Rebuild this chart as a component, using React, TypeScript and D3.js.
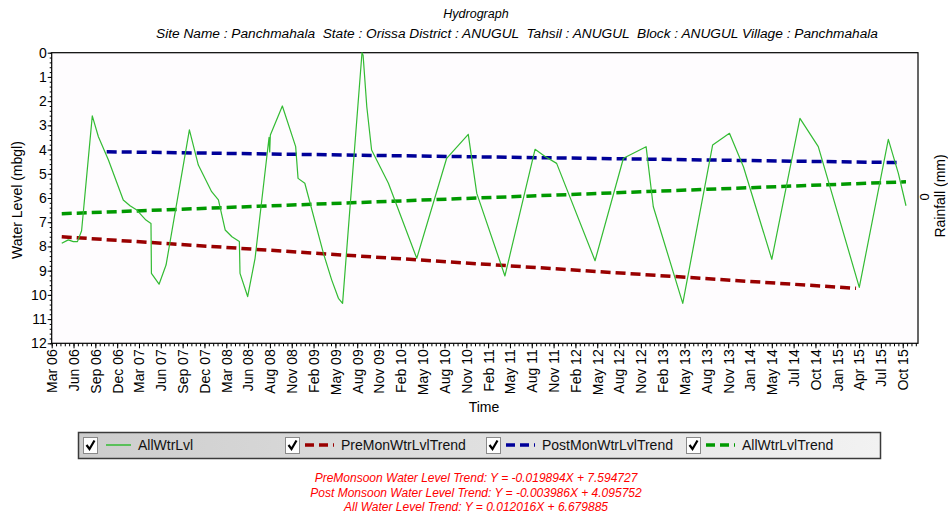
import * as d3 from 'd3';
import React, {useEffect, useRef} from 'react';

// x positions are in "label slots": 0 = Mar 06 tick, 39 = Oct 15 tick
const tickLabels = ["Mar 06","Jun 06","Sep 06","Dec 06","Mar 07","Jun 07","Sep 07","Dec 07","Mar 08","Jun 08",
  "Aug 08","Nov 08","Feb 09","May 09","Aug 09","Nov 09","Feb 10","May 10","Aug 10","Nov 10",
  "Feb 11","May 11","Aug 11","Nov 11","Feb 12","May 12","Aug 12","Nov 12","Feb 13","May 13",
  "Aug 13","Nov 13","Jan 14","May 14","Jul 14","Oct 14","Jan 15","Apr 15","Jul 15","Oct 15"];

const yTickValues = [0,1,2,3,4,5,6,7,8,9,10,11,12];

const allWtrLvl: [number, number][] = [
  [0.46,7.87],[0.76,7.73],[0.99,7.80],[1.18,7.80],[1.37,7.35],[1.86,2.61],[2.14,3.47],[2.60,4.43],
  [3.28,6.08],[3.59,6.32],[3.90,6.50],[4.32,6.91],[4.55,7.05],[4.57,9.11],[4.92,9.56],[5.24,8.77],
  [6.31,3.19],[6.72,4.64],[7.33,5.74],[7.64,6.08],[7.95,7.32],[8.26,7.60],[8.60,7.80],[8.63,9.11],
  [8.98,10.07],[9.32,8.49],[9.96,3.50],[9.99,4.10],[10.02,3.40],[10.57,2.20],[11.18,3.88],[11.29,5.19],
  [11.60,5.39],[12.45,8.28],[12.83,9.38],[13.14,10.14],[13.33,10.35],[14.22,0.0],[14.27,0.1],[14.44,2.23],
  [14.66,4.02],[15.43,5.39],[16.73,8.49],[18.10,4.36],[19.09,3.37],[19.48,5.81],[20.77,9.22],[22.15,3.99],
  [22.61,4.29],[23.14,4.57],[24.90,8.59],[26.20,4.36],[27.24,3.88],[27.57,6.36],[28.92,10.35],[30.29,3.81],
  [31.06,3.33],[31.70,4.71],[33.00,8.53],[34.29,2.71],[35.13,3.88],[37.01,9.69],[38.34,3.58],[38.80,4.98],
  [39.15,6.32]
];

const preMonTrend: [number, number][] = [[0.46,7.60],[36.86,9.73]];
const postMonTrend: [number, number][] = [[2.52,4.09],[38.95,4.54]];
const allTrend: [number, number][] = [[0.46,6.65],[39.15,5.33]];

const legendNames = ["AllWtrLvl","PreMonWtrLvlTrend","PostMonWtrLvlTrend","AllWtrLvlTrend"];
const equations = [
  "PreMonsoon Water Level Trend: Y = -0.019894X + 7.594727",
  "Post Monsoon Water Level Trend: Y = -0.003986X + 4.095752",
  "All Water Level Trend: Y = 0.012016X + 6.679885"
];

const FONT = "'Liberation Sans', Arial, sans-serif";

const App = () => {
  const ref = useRef<SVGSVGElement>(null);

  useEffect(() => {
    const svg = d3.select(ref.current);
    svg.selectAll('*').remove();

    const left = 51.7, right = 918, top = 52.7, bottom = 343.3;
    const x = d3.scaleLinear().domain([0, 39.7]).range([left, right]);
    const y = d3.scaleLinear().domain([0, 12]).range([top, bottom]);

    const defs = svg.append('defs');
    const grad = defs.append('linearGradient').attr('id', 'lgGrad');
    grad.append('stop').attr('offset', '0%').attr('stop-color', '#cdcdcd');
    grad.append('stop').attr('offset', '100%').attr('stop-color', '#f2f2f2');

    // titles
    svg.append('text').attr('x', 476).attr('y', 18).attr('text-anchor', 'middle')
      .style('font', `italic 12.5px ${FONT}`).text('Hydrograph');
    svg.append('text').attr('x', 517).attr('y', 38).attr('text-anchor', 'middle')
      .style('font', `italic 13.7px ${FONT}`)
      .attr('xml:space', 'preserve')
      .text('Site Name : Panchmahala  State : Orissa District : ANUGUL  Tahsil : ANUGUL  Block : ANUGUL Village : Panchmahala');

    svg.append('rect').attr('x', left).attr('y', top).attr('width', right - left).attr('height', bottom - top)
      .attr('fill', '#fefcfe');

    // y axis
    const yMinor = svg.append('g').attr('transform', `translate(${left},0)`)
      .call(d3.axisLeft(y).tickValues(d3.range(0, 12.01, 0.2)).tickSize(2).tickFormat(() => ''));
    yMinor.select('.domain').remove();
    const yAxis = svg.append('g').attr('transform', `translate(${left},0)`)
      .call(d3.axisLeft(y).tickValues(yTickValues).tickSize(4).tickPadding(1));
    yAxis.select('.domain').remove();
    yAxis.selectAll('text').style('font', `14px ${FONT}`).attr('fill', '#000');

    // x axis
    const xMinor = svg.append('g').attr('transform', `translate(0,${bottom})`)
      .call(d3.axisBottom(x).tickValues(d3.range(0, 39.65, 0.2)).tickSize(3).tickFormat(() => ''));
    xMinor.select('.domain').remove();
    const xAxis = svg.append('g').attr('transform', `translate(0,${bottom})`)
      .call(d3.axisBottom(x).tickValues(d3.range(0, tickLabels.length)).tickSize(5)
        .tickFormat((d) => tickLabels[d as number]));
    xAxis.select('.domain').remove();
    xAxis.selectAll('text')
      .attr('transform', 'rotate(-90)')
      .attr('x', -6).attr('y', 0).attr('dy', '0.35em')
      .style('text-anchor', 'end')
      .style('font', `14px ${FONT}`).attr('fill', '#000');

    svg.append('rect').attr('x', left).attr('y', top).attr('width', right - left).attr('height', bottom - top)
      .attr('fill', 'none').attr('stroke', '#000').attr('stroke-width', 1.2);

    // axis titles
    svg.append('text').attr('transform', `translate(22,${(top + bottom) / 2 + 2}) rotate(-90)`)
      .attr('text-anchor', 'middle').style('font', `14px ${FONT}`).text('Water Level (mbgl)');
    svg.append('text').attr('x', 484).attr('y', 412).attr('text-anchor', 'middle')
      .style('font', `14px ${FONT}`).text('Time');
    svg.append('text').attr('transform', `translate(945,196) rotate(-90)`)
      .attr('text-anchor', 'middle').style('font', `14px ${FONT}`).text('Rainfall (mm)');
    svg.append('text').attr('transform', `translate(929,197) rotate(-90)`)
      .attr('text-anchor', 'middle').style('font', `13px ${FONT}`).text('0');

    const line = d3.line<[number, number]>().x(d => x(d[0])).y(d => y(d[1]));
    const plot = svg.append('g');

    const trends: [[number, number][], string][] = [
      [preMonTrend, '#990000'], [postMonTrend, '#000099'], [allTrend, '#009900']
    ];
    trends.forEach(([data, color]) => {
      plot.append('path').datum(data).attr('d', line).attr('fill', 'none')
        .attr('stroke', color).attr('stroke-width', 3.5).attr('stroke-dasharray', '10,5');
    });

    plot.append('path').datum(allWtrLvl).attr('d', line).attr('fill', 'none')
      .attr('stroke', '#33bb33').attr('stroke-width', 1.2).attr('stroke-linejoin', 'round');

    // legend
    const lg = svg.append('g');
    lg.append('rect').attr('x', 78.5).attr('y', 432.5).attr('width', 802).attr('height', 26)
      .attr('fill', 'url(#lgGrad)').attr('stroke', '#3a3a3a').attr('stroke-width', 1.5);
    const legendX = [83, 285, 486, 686];
    const legendStyle = [
      {color: '#33bb33', dash: null as string | null, w: 1.5},
      {color: '#990000', dash: '9,5', w: 3.5},
      {color: '#000099', dash: '9,5', w: 3.5},
      {color: '#009900', dash: '9,5', w: 3.5},
    ];
    legendNames.forEach((name, i) => {
      const g = lg.append('g').attr('transform', `translate(${legendX[i]},437)`);
      g.append('rect').attr('x', 0.5).attr('y', 0.5).attr('width', 14).attr('height', 16)
        .attr('fill', '#fff').attr('stroke', '#8a8a8a');
      g.append('path').attr('d', 'M3.5,8 L6.5,12 L11.5,3.5').attr('fill', 'none')
        .attr('stroke', '#000').attr('stroke-width', 2.2);
      const s = legendStyle[i];
      const lx0 = i === 0 ? 23 : 20, lx1 = i === 0 ? 48 : 49;
      const l = g.append('line').attr('x1', lx0).attr('x2', lx1).attr('y1', 8).attr('y2', 8)
        .attr('stroke', s.color).attr('stroke-width', s.w);
      if (s.dash) l.attr('stroke-dasharray', s.dash);
      g.append('text').attr('x', i === 0 ? 55 : 56).attr('y', 13)
        .style('font', `14px ${FONT}`).attr('fill', '#111').text(name);
    });

    // equations
    svg.selectAll('.eq').data(equations).enter().append('text')
      .attr('x', 476).attr('y', (d, i) => 482 + i * 14.5).attr('text-anchor', 'middle')
      .style('font', `italic 12px ${FONT}`).attr('fill', '#ff0000').text(d => d);
  }, []);

  return (
    <svg ref={ref} width={948} height={516} style={{position: 'absolute', left: 0, top: 0, background: '#fff'}} />
  );
};

export default App;
